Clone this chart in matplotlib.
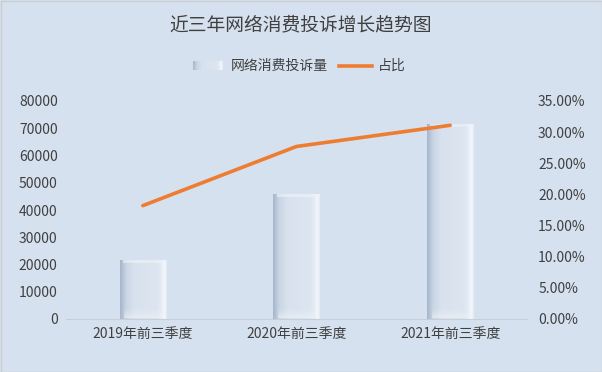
import numpy as np
import matplotlib.pyplot as plt
from matplotlib.patches import Rectangle
from matplotlib.colors import LinearSegmentedColormap
from matplotlib.ticker import FuncFormatter

plt.rcParams['font.family'] = ['Noto Sans CJK SC', 'DejaVu Sans']

categories = ['2019年前三季度', '2020年前三季度', '2021年前三季度']
complaints = [21600, 45800, 71500]
share = [18.2, 27.7, 31.1]

bg = '#D6E1EF'
txt = '#404040'

fig = plt.figure(figsize=(6.02, 3.72), dpi=100, facecolor=bg)
ax = fig.add_axes([66 / 602, 53 / 372, 461 / 602, 218 / 372])
ax.set_facecolor(bg)

x = np.arange(len(categories))
w = 0.3
bars = ax.bar(x, complaints, width=w, color='none', zorder=2)

# horizontal gradient inside each bar: dark left edge, light body, white right edge
cmap = LinearSegmentedColormap.from_list(
    'g', [(0, '#A6B6CC'), (0.13, '#C9D5E4'), (0.3, '#D8E2EE'), (0.8, '#DCE5F0'),
          (0.9, '#E8EEF6'), (0.94, '#F5F8FC'), (1, '#E4EBF4')])
grad = np.linspace(0, 1, 200).reshape(1, -1)

# soft white glow fading upward from the bar base
glow = np.zeros((50, 1, 4))
glow[..., :3] = [0.94, 0.96, 0.98]
glow[:, 0, 3] = np.linspace(0, 0.7, 50) ** 1.5

for b in bars:
    x0, h = b.get_x(), b.get_height()
    ax.imshow(grad, cmap=cmap, aspect='auto', extent=(x0, x0 + w, 0, h),
              interpolation='bilinear', zorder=2)
    ax.add_patch(Rectangle((x0 + 0.02, h - 1000), w - 0.02, 1000, color='#EEF3F9', alpha=0.6, lw=0, zorder=3))
    ax.imshow(glow, aspect='auto', extent=(x0 + 0.03, x0 + w - 0.02, 300, 4500),
              interpolation='bilinear', zorder=3)

ax.set_xlim(-0.5, 2.5)
ax.set_ylim(0, 80000)
ax.set_yticks(np.arange(0, 80001, 10000))
ax.set_xticks(x)
ax.set_xticklabels(categories)
ax.tick_params(axis='both', length=0, labelsize=10, colors=txt, pad=6)
for s in ['top', 'right', 'left']:
    ax.spines[s].set_visible(False)
ax.spines['bottom'].set_color('#C8CED6')

ax2 = ax.twinx()
ax2.plot(x, share, color='#ED7D31', lw=2.6, solid_capstyle='round', zorder=4)
ax2.set_ylim(0, 35)
ax2.set_yticks(np.arange(0, 35.01, 5))
ax2.yaxis.set_major_formatter(FuncFormatter(lambda v, p: f'{v:.2f}%'))
ax2.tick_params(axis='y', length=0, labelsize=10, colors=txt, pad=8)
for s in ['top', 'right', 'left', 'bottom']:
    ax2.spines[s].set_visible(False)

fig.text(0.5, 1 - 25 / 372, '近三年网络消费投诉增长趋势图', ha='center', va='center',
         fontsize=13.5, color=txt)

# legend
lx = 193 / 602
ly = 1 - 66 / 372
lgrad = fig.add_axes([lx, ly - 4 / 372, 30 / 602, 9 / 372])
lgrad.imshow(grad, cmap=cmap, aspect='auto', interpolation='bilinear')
lgrad.axis('off')
fig.text(231 / 602, ly, '网络消费投诉量', ha='left', va='center', fontsize=10, color=txt)
fig.add_artist(plt.Line2D([339 / 602, 372 / 602], [ly, ly], color='#ED7D31', lw=2.6,
                          transform=fig.transFigure))
fig.text(378 / 602, ly, '占比', ha='left', va='center', fontsize=10, color=txt)

fig.add_artist(Rectangle((0.5 / 602, 0.5 / 372), 1 - 1 / 602, 1 - 1 / 372, fill=False,
                         ec='#C9CDD2', lw=1, transform=fig.transFigure))

fig.savefig('out.png', dpi=100, facecolor=bg)
